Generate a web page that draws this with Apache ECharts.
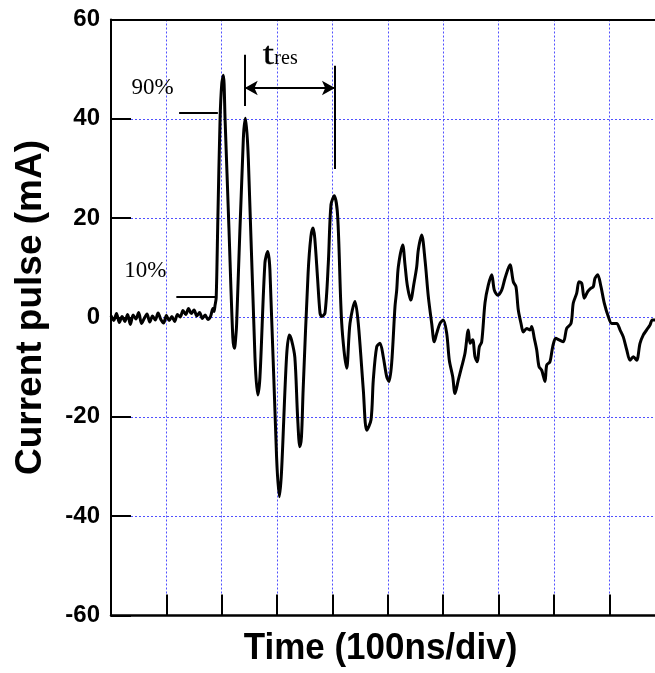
<!DOCTYPE html>
<html>
<head>
<meta charset="utf-8">
<script src="https://cdn.jsdelivr.net/npm/echarts@6/dist/echarts.min.js"></script>
<style>
html,body{margin:0;padding:0;background:#fff;}
#chart{width:655px;height:673px;}
</style>
</head>
<body>
<div id="chart"></div>
<script>
// Time in divisions (100 ns/div)
var timeDiv = [
  0.00,0.05,0.10,0.15,0.20,0.25,0.30,0.35,0.40,0.45,0.50,0.55,0.60,0.65,0.70,0.75,0.80,0.85,0.90,0.95,
  1.00,1.05,1.10,1.15,1.20,1.25,1.30,1.35,1.40,1.45,1.50,1.55,1.60,1.65,1.70,1.75,1.80,1.84,1.86,1.88,
  1.90,1.93,1.97,2.00,2.03,2.06,2.13,2.20,2.23,2.26,2.27,2.39,2.43,2.48,2.60,2.65,2.69,2.78,2.83,2.87,
  2.99,3.04,3.08,3.17,3.22,3.26,3.32,3.37,3.41,3.44,3.47,3.56,3.61,3.65,3.68,3.73,3.775,3.805,3.865,3.925,
  3.973,4.033,4.094,4.167,4.257,4.316,4.407,4.466,4.557,4.618,4.696,4.737,4.799,4.858,4.917,4.979,5.021,5.069,5.129,5.160,
  5.189,5.268,5.310,5.351,5.413,5.472,5.521,5.550,5.611,5.671,5.731,5.792,5.839,5.882,5.942,6.001,6.063,6.110,6.171,6.213,
  6.272,6.334,6.393,6.453,6.484,6.532,6.574,6.615,6.652,6.695,6.755,6.814,6.876,6.923,6.984,7.056,7.116,7.206,7.266,7.314,
  7.356,7.405,7.446,7.508,7.567,7.598,7.645,7.688,7.730,7.778,7.838,7.869,7.928,7.977,8.031,8.091,8.169,8.230,8.308,8.349,
  8.411,8.452,8.501,8.548,8.609,8.669,8.710,8.741,8.790,8.849,8.909,8.981,9.043,9.133,9.193,9.252,9.314,9.373,9.433,9.494,
  9.554,9.614,9.675,9.735,9.776,9.843
];
// Current pulse (mA)
var currentMA = [
  0.4,-0.6,0.8,-1.0,0.2,-0.8,0.6,-1.4,0.5,-0.3,1.0,-1.2,-0.2,0.7,-0.9,0.3,-0.5,0.9,-0.4,-1.1,
  0.4,-0.6,0.2,-0.8,0.6,0.1,1.4,0.6,1.8,0.8,1.5,0.3,1.0,-0.2,0.5,-0.4,0.3,1.8,1.2,2.5,
  4.0,20.0,40.0,47.0,48.8,40.0,18.0,-4.0,-6.2,-3.0,-1.0,36.0,40.1,32.0,-8.0,-15.6,-12.0,11.0,13.3,9.6,
  -28.0,-36.1,-31.0,-8.0,-3.5,-4.5,-8.0,-20.0,-26.0,-24.0,-14.6,9.0,16.3,18.0,16.0,8.0,0.9,0.2,0.9,11.0,
  22.7,24.5,20.3,-1.2,-10.2,-1.2,3.2,-1.2,-14.6,-22.7,-20.6,-12.6,-5.9,-5.2,-7.9,-11.9,-12.9,-9.2,2.2,5.5,
  10.2,14.6,10.6,6.5,3.5,6.9,10.2,13.6,16.6,11.6,4.2,-1.2,-4.9,-3.2,-1.2,-0.5,-3.2,-8.6,-11.9,-15.3,
  -12.6,-9.9,-7.2,-2.5,-5.2,-4.5,-7.9,-8.9,-5.9,-4.9,3.0,6.5,8.6,5.5,4.5,5.5,7.9,10.6,7.2,6.2,
  1.5,-1.2,-2.9,-2.2,-2.5,-1.8,-4.2,-6.5,-9.9,-10.6,-12.9,-9.6,-8.9,-5.9,-4.2,-4.5,-4.9,-2.2,-1.2,2.9,
  4.9,7.2,6.9,3.9,5.2,5.9,6.2,7.9,8.6,6.2,2.9,0.2,-1.2,-1.2,-2.5,-3.9,-6.5,-8.6,-7.9,-8.6,
  -5.2,-3.5,-2.5,-1.5,-0.5,-0.5
];
var yTicks = [-60, -40, -20, 0, 20, 40, 60];

// annotation anchors in data units [time(div), current(mA)]
var level90 = [[1.23, 41.2], [1.93, 41.2]];
var level10 = [[1.18, 4.1], [1.88, 4.1]];
var bar1 = [[2.415, 52.9], [2.415, 42.6]];
var bar2 = [[4.045, 50.7], [4.045, 29.9]];
var arrowRes = [[2.415, 46.2], [4.045, 46.2]];
var label90 = [0.75, 46.2];
var label10 = [0.62, 9.4];
var labelT = [2.74, 52.6];
var labelRes = [2.95, 52.0];

var seriesData = timeDiv.map(function (t, i) { return [t, currentMA[i]]; });

var chart = echarts.init(document.getElementById('chart'), null, {renderer: 'canvas'});
var gridColor = '#5050ff';
var option = {
  animation: false,
  backgroundColor: '#ffffff',
  grid: {left: 111, top: 19.5, width: 553.7, height: 596, containLabel: false, outerBoundsMode: 'none'},
  xAxis: [{
    type: 'value', min: 0, max: 10, interval: 1,
    axisLine: {show: true, onZero: false, lineStyle: {color: '#000', width: 2.5}},
    axisTick: {show: true, inside: true, length: 21, lineStyle: {color: '#000', width: 2}},
    axisLabel: {show: false},
    splitLine: {show: true, lineStyle: {color: gridColor, width: 1, type: [2, 2]}}
  }, {
    type: 'value', position: 'top', min: 0, max: 10, interval: 1,
    axisLine: {show: true, onZero: false, lineStyle: {color: '#000', width: 2}},
    axisTick: {show: false}, axisLabel: {show: false}, splitLine: {show: false}
  }],
  yAxis: {
    type: 'value', min: yTicks[0], max: yTicks[yTicks.length - 1], interval: 20,
    axisLine: {show: true, onZero: false, lineStyle: {color: '#000', width: 2}},
    axisTick: {show: true, inside: true, length: 20, lineStyle: {color: '#000', width: 2}},
    axisLabel: {show: true, margin: 11, color: '#000', fontSize: 24, fontWeight: 'bold',
      fontFamily: 'Liberation Sans, Arial, sans-serif'},
    splitLine: {show: true, lineStyle: {color: gridColor, width: 1, type: [2, 2]}}
  },
  series: [{
    type: 'line',
    data: seriesData,
    showSymbol: false,
    symbol: 'none',
    smooth: 0.3,
    clip: false,
    lineStyle: {color: '#000', width: 3, join: 'round'},
    markLine: {
      silent: true,
      symbol: ['none', 'none'],
      label: {show: false},
      lineStyle: {color: '#000', width: 2, type: 'solid'},
      emphasis: {disabled: true},
      data: [
        [{coord: level90[0]}, {coord: level90[1]}],
        [{coord: level10[0]}, {coord: level10[1]}],
        [{coord: bar1[0]}, {coord: bar1[1]}],
        [{coord: bar2[0]}, {coord: bar2[1]}],
        [{coord: arrowRes[0], symbol: 'arrow', symbolSize: [11, 13]},
         {coord: arrowRes[1], symbol: 'arrow', symbolSize: [11, 13]}]
      ]
    }
  }]
};
chart.setOption(option);

function px(p) { return chart.convertToPixel({gridIndex: 0}, p); }
var serif = 'Liberation Serif, Times New Roman, serif';
var sans = 'Liberation Sans, Arial, sans-serif';
var p90 = px(label90), p10 = px(label10), pT = px(labelT), pR = px(labelRes);
chart.setOption({
  graphic: [
    {type: 'text', x: p90[0], y: p90[1], style: {text: '90%', font: '23px ' + serif, fill: '#000', align: 'center', verticalAlign: 'middle'}},
    {type: 'text', x: p10[0], y: p10[1], style: {text: '10%', font: '23px ' + serif, fill: '#000', align: 'center', verticalAlign: 'middle'}},
    {type: 'text', x: pT[0], y: pT[1], scaleX: 1.3, style: {text: 't', font: '31px ' + serif, fill: '#000', align: 'left', verticalAlign: 'middle', stroke: '#000', lineWidth: 0.3}},
    {type: 'text', x: pR[0], y: pR[1], style: {text: 'res', font: '20px ' + serif, fill: '#000', align: 'left', verticalAlign: 'middle'}},
    {type: 'text', x: 30.5, y: 307.5, rotation: Math.PI / 2,
      style: {text: 'Current pulse (mA)', font: 'bold 37px ' + sans, fill: '#000', align: 'center', verticalAlign: 'middle'}},
    {type: 'text', x: 380.5, y: 649, scaleY: 1.08,
      style: {text: 'Time (100ns/div)', font: 'bold 35px ' + sans, fill: '#000', align: 'center', verticalAlign: 'middle'}}
  ]
});
</script>
</body>
</html>
